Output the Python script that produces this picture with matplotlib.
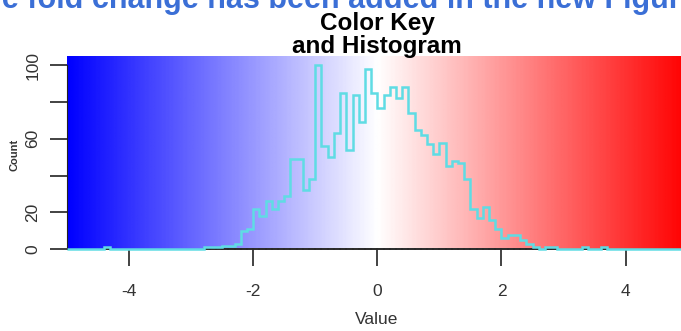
import numpy as np
import matplotlib.pyplot as plt
from matplotlib.colors import LinearSegmentedColormap

# histogram counts, bins of width 0.1 starting at -2.8
hist_start = -2.8
bin_width = 0.1
counts = [1, 1, 1, 2, 2, 3,
          10, 11, 22, 18, 26, 22, 26, 29,
          49, 49, 32, 38,
          100, 56, 50, 63, 85, 54, 84, 69, 98, 85,
          77, 84, 88, 82, 88, 74, 65, 62, 57, 52,
          58, 45, 48, 47, 38, 22, 17, 23, 16, 11,
          6, 8, 8, 5, 3, 1]
# single values far out in the tails (left edge of bin)
tail_bins = [-4.4, 2.7, 2.8, 3.3, 3.6]
tail_counts = [1, 1, 1, 1, 1]

x_ticks = [-4, -2, 0, 2, 4]
y_ticks = [0, 20, 40, 60, 80, 100]
y_labels = ['0', '20', '', '60', '', '100']

header = 'the fold change has been added in the new Figure'
title = 'Color Key\nand Histogram'

plt.rcParams['font.family'] = ['Liberation Sans', 'DejaVu Sans']

# full set of bins over the key range
edges = np.round(np.arange(-5, 5 + bin_width / 2, bin_width), 1)
full = np.zeros(len(edges) - 1)
i0 = int(round((hist_start - edges[0]) / bin_width))
full[i0:i0 + len(counts)] = counts
for b, c in zip(tail_bins, tail_counts):
    full[int(round((b - edges[0]) / bin_width))] = c

fig = plt.figure(figsize=(6.81, 3.31), dpi=100)
W, H = 681, 331
ax = fig.add_axes([67 / W, (H - 249.3) / H, (687.7 - 67) / W, (249.3 - 56) / H])

cmap = LinearSegmentedColormap.from_list('bluered', ['#0000ff', '#ffffff', '#ff0000'])
grad = np.linspace(-5, 5, 400).reshape(1, -1)
ax.imshow(grad, extent=(-5, 5, 0, 105), aspect='auto', cmap=cmap,
          vmin=-5, vmax=5, origin='lower', interpolation='bilinear')

# dark base under the occupied bins
for k in range(len(full)):
    if full[k] > 0:
        ax.plot([edges[k], edges[k + 1]], [0, 0], color='#2a2a2a', lw=1.4,
                clip_on=False, zorder=3)
ax.stairs(full, edges, color='#5fdce4', lw=1.8, baseline=None,
          clip_on=False, zorder=4)

ax.set_xlim(-5, 5)
ax.set_ylim(0, 105)
for s in ['top', 'right', 'bottom']:
    ax.spines[s].set_visible(False)
ax.spines['left'].set_bounds(0, 100)
ax.spines['left'].set_color('#222222')

ax.set_xticks(x_ticks)
ax.set_xticklabels([str(t) for t in x_ticks])
ax.set_yticks(y_ticks)
ax.set_yticklabels(y_labels, rotation=90, va='center')
ax.tick_params(axis='x', length=12, width=1.2, color='#222222',
               labelsize=12.5, labelcolor='#333333', pad=13)
ax.tick_params(axis='y', length=12, width=1.2, color='#222222',
               labelsize=12.5, labelcolor='#333333', pad=7)

fig.text(377 / W, 1 - 320 / H, 'Value', ha='center', va='center',
         fontsize=12.5, color='#333333')
fig.text(14 / W, 1 - 155 / H, 'Count', ha='center', va='center',
         rotation=90, fontsize=8, fontweight='bold', color='#333333')
fig.text(377 / W, 1 - 35 / H, title, ha='center', va='center',
         fontsize=17.5, fontweight='bold', linespacing=1.02)
fig.text(-27 / W, 1 - 8 / H, header, ha='left', va='baseline',
         fontsize=22, fontweight='bold', color='#3b6fd6')

fig.savefig('out.png', dpi=100)
